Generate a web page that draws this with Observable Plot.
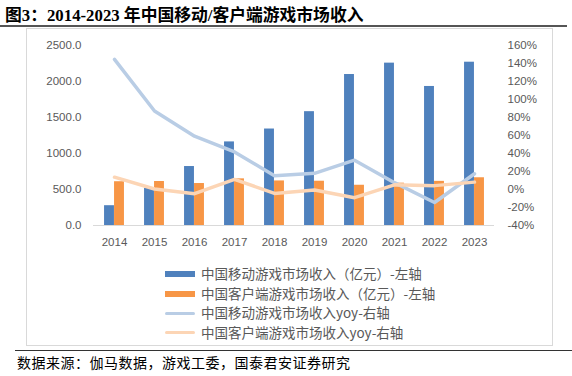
<!DOCTYPE html>
<html><head><meta charset="utf-8">
<script src="https://cdn.jsdelivr.net/npm/d3@7"></script>
<script src="https://cdn.jsdelivr.net/npm/@observablehq/plot@0.6"></script>
<style>
body{margin:0;background:#fff;}
#wrap{position:relative;width:572px;height:376px;overflow:hidden;font-family:"Noto Sans CJK SC",sans-serif;}
#title{position:absolute;left:5px;top:2px;font-size:16.8px;font-weight:bold;color:#000;font-family:"Liberation Serif","Noto Sans CJK SC",serif;white-space:nowrap;}
#tline{position:absolute;left:0;top:25px;width:567px;height:2px;background:#555;}
#box{position:absolute;left:26px;top:28px;width:525px;height:316px;border:1px solid #d9d9d9;}
#chart{position:absolute;left:0;top:0;}
#legend{position:absolute;left:165px;top:264px;font-size:13.5px;color:#595959;}
.row{position:absolute;left:0;height:19px;white-space:nowrap;}
.sw{position:absolute;left:0;width:30px;}
.lt{position:absolute;left:36px;top:0;line-height:19px;}
#cline{position:absolute;left:15px;top:350px;width:557px;height:1px;background:#333;}
#caption{position:absolute;left:17px;top:352px;font-size:14px;letter-spacing:0.5px;color:#000;white-space:nowrap;}
</style></head>
<body><div id="wrap">
<div id="title">图3：2014-2023 年中国移动/客户端游戏市场收入</div>
<div id="tline"></div>
<div id="box"></div>
<div id="chart"></div>
<div id="legend"></div>
<div id="cline"></div>
<div id="caption">数据来源：伽马数据，游戏工委，国泰君安证券研究</div>
</div>
<script>
const years = ["2014","2015","2016","2017","2018","2019","2020","2021","2022","2023"];
const mobileRev = [275, 514, 819, 1161, 1340, 1581, 2097, 2255, 1931, 2268];
const clientRev = [608, 611, 583, 648, 619, 615, 559, 588, 613, 663];
const mobileYoy = [144.6, 87.2, 59.2, 41.7, 15.4, 18.0, 32.6, 7.6, -14.4, 17.5];
const clientYoy = [13.7, 0.5, -4.6, 11.2, -4.4, -0.6, -9.1, 5.2, 4.3, 8.2];
const leftTicks = [0, 500, 1000, 1500, 2000, 2500];
const rightTicks = [-40, -20, 0, 20, 40, 60, 80, 100, 120, 140, 160];
const seriesNames = ["中国移动游戏市场收入（亿元）-左轴","中国客户端游戏市场收入（亿元）-左轴","中国移动游戏市场收入yoy-右轴","中国客户端游戏市场收入yoy-右轴"];
const colors = ["#4F81BD","#F79646","#B9CDE5","#FCD5B5"];

const toLeft = p => (p + 40) * 12.5;
const rows = years.map((y,i)=>({year:y, m:mobileRev[i], c:clientRev[i], my:toLeft(mobileYoy[i]), cy:toLeft(clientYoy[i])}));
const mL = 93, mR = 78, W = 572;
const band = (W - mL - mR) / years.length;
const barW = 10;

const chart = Plot.plot({
  width: W, height: 255,
  marginLeft: mL, marginRight: mR, marginTop: 45, marginBottom: 30,
  style: {fontFamily: "Liberation Sans, Arial, sans-serif", fontSize: "11.5px", color: "#595959", background: "transparent"},
  x: {type: "band", domain: years, padding: 0, axis: null},
  y: {domain: [0, 2500], axis: null},
  marks: [
    Plot.barY(rows, {x: "year", y: "m", fill: colors[0], insetLeft: band/2 - barW, insetRight: band/2}),
    Plot.barY(rows, {x: "year", y: "c", fill: colors[1], insetLeft: band/2, insetRight: band/2 - barW}),
    Plot.ruleY([0], {stroke: "#d9d9d9", strokeWidth: 1}),
    Plot.line(rows, {x: "year", y: "my", stroke: colors[2], strokeWidth: 3.5, strokeLinejoin: "round", strokeLinecap: "round"}),
    Plot.line(rows, {x: "year", y: "cy", stroke: colors[3], strokeWidth: 3.5, strokeLinejoin: "round", strokeLinecap: "round"}),
    Plot.axisY(leftTicks, {anchor: "left", tickSize: 0, tickPadding: 12, tickFormat: d => d.toFixed(1), fill: "#595959", label: null}),
    Plot.axisY(rightTicks.map(toLeft), {anchor: "right", tickSize: 0, tickPadding: 13, tickFormat: d => Math.round(d/12.5 - 40) + "%", fill: "#595959", label: null}),
    Plot.axisX(years, {anchor: "bottom", tickSize: 0, tickPadding: 12, fill: "#595959", label: null})
  ]
});
document.getElementById("chart").appendChild(chart);

const leg = document.getElementById("legend");
const tops = [0, 19.5, 39, 58.5];
seriesNames.forEach((n,i)=>{
  const r = document.createElement("div");
  r.className = "row"; r.style.top = tops[i] + "px";
  const s = document.createElement("div");
  s.className = "sw";
  if (i < 2) { s.style.top = "7px"; s.style.height = "6px"; s.style.background = colors[i]; }
  else { s.style.top = "8.5px"; s.style.height = "3px"; s.style.borderRadius = "2px"; s.style.background = colors[i]; }
  const t = document.createElement("div");
  t.className = "lt"; t.textContent = n;
  r.appendChild(s); r.appendChild(t); leg.appendChild(r);
});
</script>
</body></html>
